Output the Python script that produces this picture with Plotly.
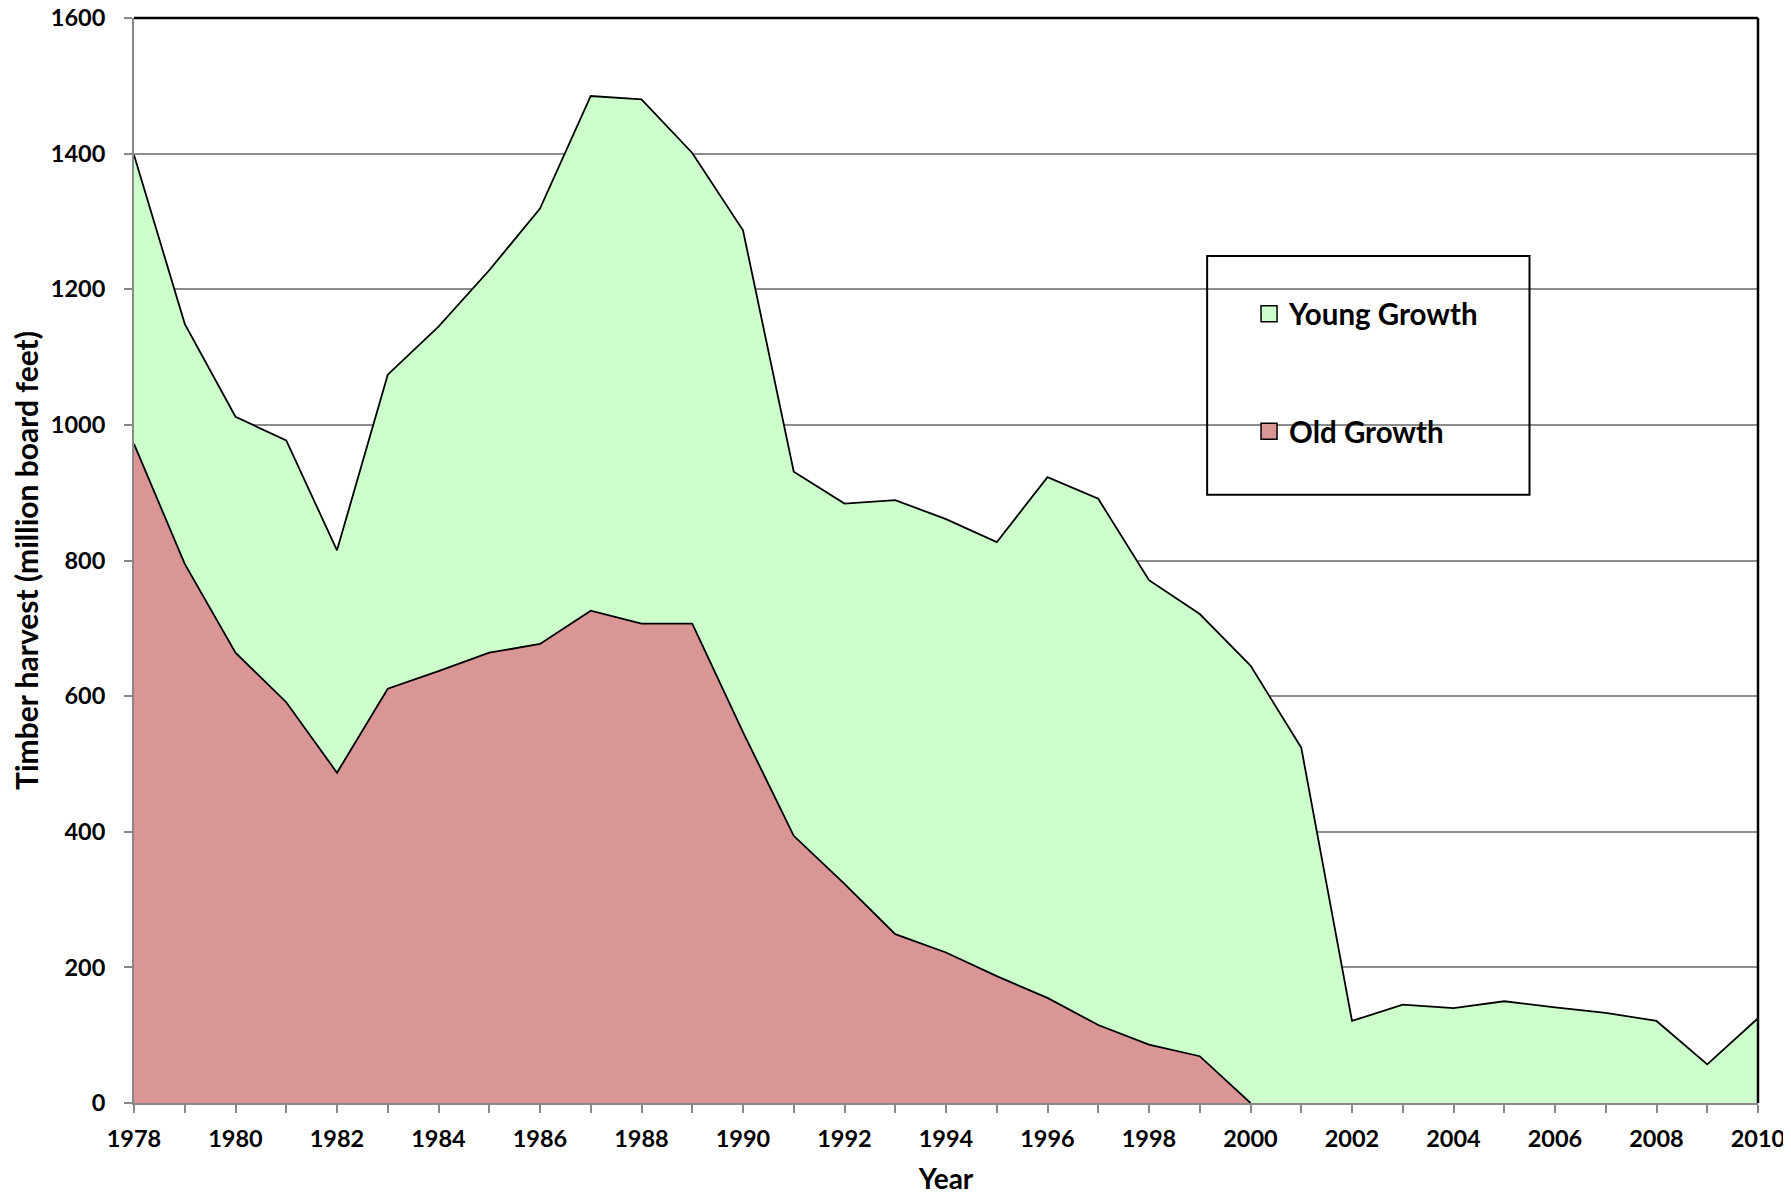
import plotly.graph_objects as go

years = list(range(1978, 2011))
old_growth = [972, 795, 664, 591, 487, 611, 637, 664, 677, 726, 707, 707, 547, 394,
              323, 249, 222, 187, 155, 115, 86, 69, 0]  # 1978-2000
young_growth = [426, 354, 348, 386, 328, 463, 508, 564, 642, 759, 773, 694, 740, 537,
                561, 640, 639, 640, 768, 776, 685, 652, 645, 524, 121, 145, 140, 150,
                141, 133, 121, 57, 125]  # 1978-2010
old_years = years[:len(old_growth)]
old_full = old_growth + [0] * (len(years) - len(old_growth))
total = [o + y for o, y in zip(old_full, young_growth)]

GREEN = "#CCFFCC"
RED = "#D99694"
FONT = "Lato"

fig = go.Figure()
fig.add_trace(go.Scatter(x=years, y=total, mode="lines", fill="tozeroy",
                         fillcolor=GREEN, line=dict(color="black", width=1.8),
                         showlegend=False, hoverinfo="skip"))
fig.add_trace(go.Scatter(x=old_years, y=old_growth, mode="lines", fill="tozeroy",
                         fillcolor=RED, line=dict(color="black", width=1.8),
                         showlegend=False, hoverinfo="skip"))
# legend entries
fig.add_trace(go.Scatter(x=[None], y=[None], mode="markers", name="Young Growth",
                         legendgroup="a",
                         marker=dict(symbol="square", size=17, color=GREEN,
                                     line=dict(color="black", width=1.5))))
fig.add_trace(go.Scatter(x=[None], y=[None], mode="markers", name="Old Growth",
                         legendgroup="b",
                         marker=dict(symbol="square", size=17, color=RED,
                                     line=dict(color="black", width=1.5))))

# page body adds an 8px offset, so the figure is 8px smaller and margins shifted
fig.update_layout(
    width=1783, height=1187,
    margin=dict(l=126, r=33, t=10, b=92, autoexpand=False),
    paper_bgcolor="white", plot_bgcolor="white",
    font=dict(family=FONT, color="black"),
    legend=dict(x=0.6866, y=0.751, xanchor="left", yanchor="top",
                bgcolor="rgba(0,0,0,0)", borderwidth=0,
                traceorder="grouped", tracegroupgap=76,
                font=dict(family=FONT, size=29.5, color="black", weight="bold")),
    xaxis=dict(range=[1978, 2010], dtick=2, tick0=1978, automargin=False,
               showgrid=False, showline=True, linecolor="#888888", linewidth=2,
               ticks="outside", ticklen=8, tickcolor="#888888", tickwidth=2,
               minor=dict(dtick=1, ticks="outside", ticklen=8, tickcolor="#888888",
                          tickwidth=2, showgrid=False),
               tickfont=dict(family=FONT, size=23.5, color="black", weight="bold"),
               ticklabelstandoff=6, ticklabeloverflow="allow",
               title=dict(text="Year", standoff=24,
                          font=dict(family=FONT, size=28, color="black", weight="bold")),
               zeroline=False),
    yaxis=dict(range=[0, 1600], dtick=200, tick0=0, automargin=False,
               showgrid=True, gridcolor="#8c8c8c", gridwidth=1.5,
               showline=True, linecolor="#888888", linewidth=2,
               ticks="outside", ticklen=8, tickcolor="#888888", tickwidth=2,
               tickfont=dict(family=FONT, size=23.5, color="black", weight="bold"),
               ticklabelstandoff=14, ticklabeloverflow="allow",
               title=dict(text="Timber harvest (million board feet)", standoff=4,
                          font=dict(family=FONT, size=30, color="black", weight="bold")),
               zeroline=False),
    shapes=[
        dict(type="line", xref="paper", yref="paper", x0=0, x1=1, y0=1, y1=1,
             line=dict(color="black", width=2.5), layer="above"),
        dict(type="line", xref="paper", yref="paper", x0=1, x1=1, y0=0, y1=1,
             line=dict(color="black", width=2.5), layer="above"),
        dict(type="rect", xref="paper", yref="paper", x0=0.6608, x1=0.8593,
             y0=0.5605, y1=0.7806, line=dict(color="black", width=2),
             fillcolor="rgba(0,0,0,0)", layer="above"),
    ],
)

fig.write_html("out.html")
